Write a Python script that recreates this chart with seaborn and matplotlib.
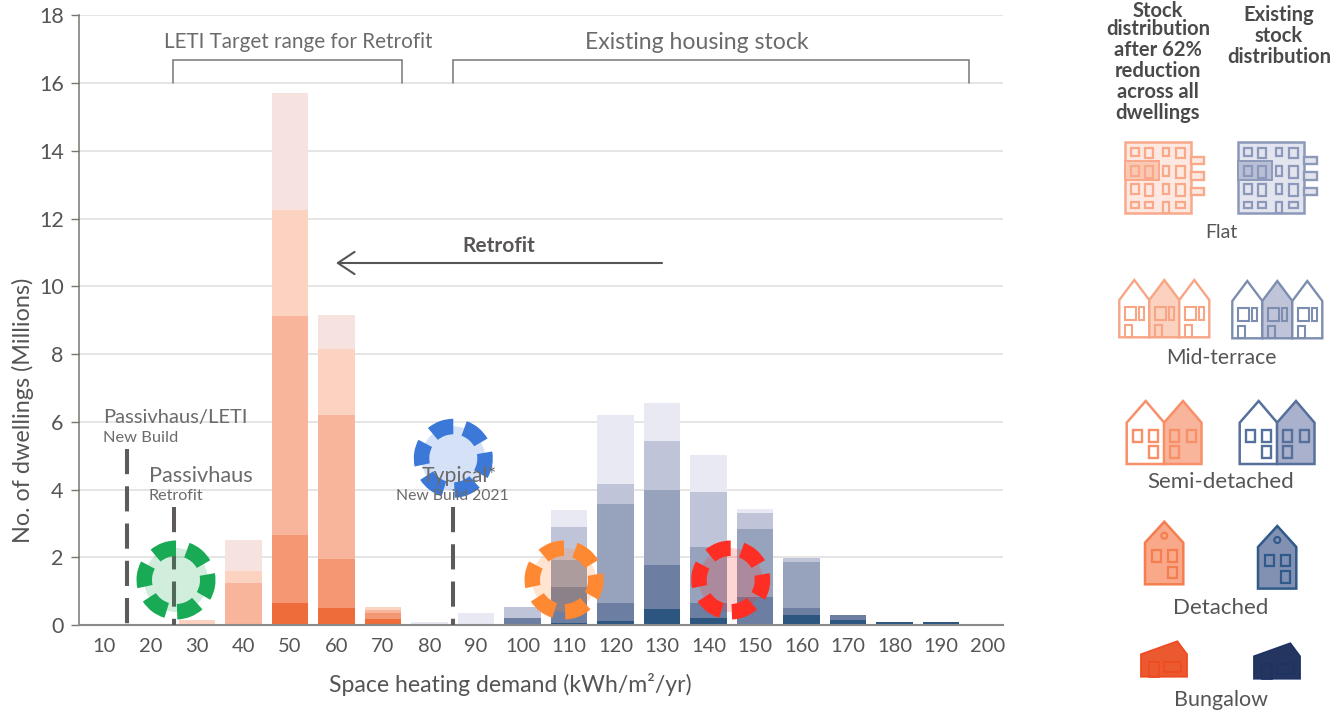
import matplotlib
matplotlib.use("Agg")
import matplotlib.pyplot as plt
import seaborn as sns
from matplotlib.patches import Circle, Polygon, Rectangle, Wedge

demand = [str(v) for v in range(10, 201, 10)]
# Stock distribution after 62% reduction (millions of dwellings)
after_bungalow = [0, 0, 0, 0, .66, .51, .18] + [0] * 13
after_detached = [0, 0, 0, 0, 2.00, 1.43, .17] + [0] * 13
after_semi = [0, 0, 0, 1.25, 6.47, 4.26, .10] + [0] * 13
after_mid = [0, 0, .15, .34, 3.12, 1.95, .08] + [0] * 13
after_flat = [0, 0, 0, .91, 3.45, 1.00, 0] + [0] * 13
# Existing stock distribution
now_bungalow = [0] * 10 + [.07, .13, .46, .22, .03, .30, .16, .09, .08, 0]
now_detached = [0] * 9 + [.22, 1.04, .53, 1.30, .44, .81, .21, .14, 0, 0, 0]
now_semi = [0] * 10 + [.81, 2.91, 2.22, 1.64, 1.99, 1.35, 0, 0, 0, 0]
now_mid = [0] * 9 + [.32, .96, .59, 1.44, 1.64, .49, .13, 0, 0, 0, 0]
now_flat = [0] * 7 + [.08, .35, 0, .51, 2.05, 1.14, 1.08, .10, 0, 0, 0, 0, 0]

after_layers = [after_bungalow, after_detached, after_semi, after_mid, after_flat]
now_layers = [now_bungalow, now_detached, now_semi, now_mid, now_flat]
after_colors = ["#EE6C3A", "#F49874", "#F8B59C", "#FCD3C1", "#F6E2DF"]
now_colors = ["#2C5580", "#6C7EA2", "#97A2BC", "#C0C4D8", "#E8E9F2"]

sns.set_theme(style="white")
plt.rcParams["font.family"] = ["Lato", "DejaVu Sans"]

W, H = 1335, 710
fig = plt.figure(figsize=(W / 100, H / 100), dpi=100)
ax = fig.add_axes([79 / W, (H - 625) / H, 924 / W, 609.7 / H])

for layers, colors in ((after_layers, after_colors), (now_layers, now_colors)):
    base = [0.0] * len(demand)
    for vals, col in zip(layers, colors):
        sns.barplot(x=demand, y=vals, bottom=base, color=col, saturation=1,
                    width=0.785, order=demand, ax=ax, errorbar=None,
                    linewidth=0, edgecolor="none")
        base = [b + v for b, v in zip(base, vals)]

ax.set_xlim(-0.5376, 19.33)
ax.set_ylim(0, 18)
ax.set_yticks(range(0, 19, 2))
ax.yaxis.grid(True, color="#DEDEDE", lw=1.1)
ax.set_axisbelow(True)
ax.tick_params(axis="y", length=6, width=1, color="#7A7570", labelsize=15.5,
               labelcolor="#555555", pad=5, left=True)
ax.tick_params(axis="x", length=0, labelsize=14.5, labelcolor="#555555", pad=9)
for s in ("top", "right"):
    ax.spines[s].set_visible(False)
ax.spines["left"].set_color("#7A7570")
ax.spines["left"].set_linewidth(1.1)
ax.spines["bottom"].set_color("#8A8A8A")
ax.spines["bottom"].set_linewidth(1.5)
ax.set_xlabel("")
ax.set_ylabel("")

# Reference lines (top-down dashes)
for xpos, top in ((0.5, 5.2), (1.5, 3.48), (7.5, 3.48)):
    ax.plot([xpos, xpos], [top, 0], color="#5F5A5A", lw=2.9,
            dashes=(6.25, 3), dash_capstyle="butt", zorder=5)

# Overlay in pixel coordinates
ov = fig.add_axes([0, 0, 1, 1], zorder=10)
ov.set_xlim(0, W)
ov.set_ylim(H, 0)
ov.axis("off")
ov.patch.set_alpha(0)

GREY = "#6B6B6B"
DARK = "#4A4A4A"


def txt(x, y, s, size, color=GREY, ha="center", **kw):
    ov.text(x, y, s, fontsize=size, color=color, ha=ha, va="center", **kw)


txt(23, 410, "No. of dwellings (Millions)", 16.8, "#555555", rotation=90)
txt(510, 684.5, "Space heating demand (kWh/m²/yr)", 16.6, "#555555")
txt(298, 42, "LETI Target range for Retrofit", 14.9)
txt(697, 42.5, "Existing housing stock", 16.6)
txt(103, 417.5, "Passivhaus/LETI", 14.5, ha="left")
txt(103, 437.5, "New Build", 11.8, ha="left")
txt(149, 476.5, "Passivhaus", 15.7, ha="left")
txt(149, 496.5, "Retrofit", 11.6, ha="left")
txt(459, 476.5, "Typical*", 15.3)
txt(452, 496.5, "New Build 2021", 11.3)
txt(499, 246.5, "Retrofit", 15, "#5A5656", fontweight="bold")

for x0, x1 in ((173, 402), (453, 969)):
    ov.plot([x0, x0, x1, x1], [83, 59.5, 59.5, 83], color="#777777", lw=1.1,
            solid_joinstyle="miter")

ov.annotate("", xy=(336, 263), xytext=(662, 263),
            arrowprops=dict(arrowstyle="->,head_length=12,head_width=8",
                            mutation_scale=1, lw=1.5, color="#555555",
                            shrinkA=0, shrinkB=0))

# Dashed-ring markers
RING_ANGLES = [110, 50, -10, -68, -127, 172]
rings = [((176, 580), "#19AA55", 0.2), ((453.3, 458.3), "#3C78D8", 0.22),
         ((564, 580), "#FF8833", 0.22), ((730.7, 580), "#FF2E24", 0.2)]
for c, col, a in rings:
    ov.add_patch(Circle(c, 32, fc=col, ec="none", alpha=a))
    for ang in RING_ANGLES:
        ov.add_patch(Wedge(c, 39.5, -(ang + 20), -(ang - 20), width=15.5,
                           fc=col, ec="none"))


def poly(pts, fc, ec, lw=1.7):
    ov.add_patch(Polygon(pts, closed=True, fc=fc, ec=ec, lw=lw, joinstyle="miter"))


def rect(x0, y0, x1, y1, fc, ec, lw=1.7):
    ov.add_patch(Rectangle((x0, y0), x1 - x0, y1 - y0, fc=fc, ec=ec, lw=lw))


def flat_icon(dx, light, hi, ec):
    rect(1124.7 + dx, 142, 1191.3 + dx, 213.3, light, ec, 1.8)
    for y0 in (156.7, 172.3, 187.7):
        rect(1191.3 + dx, y0, 1204 + dx, y0 + 7.6, light, ec)
    rect(1124.7 + dx, 160.7, 1158.7 + dx, 180.3, hi, ec, 1.4)
    cols = [(1131, 1139), (1144.5, 1152.5), (1162.5, 1168.5), (1176, 1184.5)]
    rows = [(147.5, 156), (165.5, 175.5), (183.5, 194), (201.5, 208)]
    for r, (y0, y1) in enumerate(rows):
        for c, (x0, x1) in enumerate(cols):
            if r == 3 and c == 2:
                rect(x0 + dx, y0 + .5, x1 + dx, 213.3, "none", ec, 1.6)
            else:
                tall = 3 if (c % 2 and r < 3) else 0
                rect(x0 + dx, y0, x1 + dx, y1 + tall * 0.7, "none", ec, 1.6)


def terrace_icon(dx, dy, fill, ec):
    for i, x0 in enumerate((1119.3, 1149.3, 1179.3)):
        x1 = x0 + 30
        pts = [(x0, 337.3 + dy), (x0, 300 + dy), (x0 + 15, 280 + dy),
               (x1, 300 + dy), (x1, 337.3 + dy)]
        poly([(x + dx, y) for x, y in pts], fill if i == 1 else "white", ec)
        rect(x0 + 6 + dx, 306.7 + dy, x0 + 17 + dx, 320 + dy, "none", ec, 1.5)
        rect(x0 + 20 + dx, 306.7 + dy, x0 + 25 + dx, 320 + dy, "none", ec, 1.5)
        rect(x0 + 6 + dx, 325 + dy, x0 + 13 + dx, 337.3 + dy, "none", ec, 1.5)


def semi_icon(dx, fill, ec):
    for i, x0 in enumerate((1126.7, 1164)):
        x1 = x0 + 37.5
        pts = [(x0, 464), (x0, 422.7), (x0 + 19, 401), (x1, 422.7), (x1, 464)]
        poly([(x + dx, y) for x, y in pts], fill if i else "white", ec, 1.8)
        for wx, wy in ((6, 429.5), (22.5, 429.5), ((6 if i else 22.5), 446)):
            rect(x0 + wx + dx, wy, x0 + wx + 9 + dx, wy + 12, "none", ec, 1.7)


def det_icon(dx, dy, fill, ec):
    x0, x1 = 1145 + dx, 1183.3 + dx
    poly([(x0, 584.3 + dy), (x0, 542.7 + dy), (x0 + 19.3, 521.7 + dy),
          (x1, 542.7 + dy), (x1, 584.3 + dy)], fill, ec, 1.8)
    ov.add_patch(Circle((x0 + 19.3, 535.7 + dy), 3, fc="none", ec=ec, lw=1.5))
    for wx, wy in ((7, 550.3), (23.3, 550.3), (23.3, 566.7)):
        rect(x0 + wx, wy + dy, x0 + wx + 8.7, wy + 11.5 + dy, "none", ec, 1.6)


def bung_icon(dx, dy, fill, ec):
    poly([(1141 + dx, 654.3 + dy), (1177.3 + dx, 641.3 + dy), (1187 + dx, 654.3 + dy),
          (1187 + dx, 676.7 + dy), (1141 + dx, 676.7 + dy)], fill, ec, 1.3)
    rect(1149.3 + dx, 661.7 + dy, 1159 + dx, 676.7 + dy, "none", ec, 1.2)
    rect(1164 + dx, 661.7 + dy, 1181 + dx, 671.7 + dy, "none", ec, 1.2)


flat_icon(0, "#FDE9E1", "#FAC9B4", "#F9A88A")
flat_icon(113, "#E3E5EE", "#B9BFD4", "#8C99BA")
terrace_icon(0, 0, "#FBD2BF", "#F7A585")
terrace_icon(113, 1, "#BFC4D9", "#7C8DB0")
semi_icon(0, "#F9B59B", "#F88F68")
semi_icon(113, "#A9B1CC", "#56709C")
det_icon(0, 0, "#F9A889", "#F47E4F")
det_icon(113, 4.3, "#8291B2", "#2F5A8A")
bung_icon(0, 0, "#EA5930", "#F04A20")
bung_icon(113, 2, "#243660", "#1F3363")

for y, s in zip((11, 29, 50, 71, 92, 113),
                ("Stock", "distribution", "after 62%", "reduction", "across all", "dwellings")):
    txt(1158, y, s, 14.5, DARK, fontweight="bold")
for y, s in zip((15, 36, 57), ("Existing", "stock", "distribution")):
    txt(1279, y, s, 14.5, DARK, fontweight="bold")
for y, s, size in zip((232.5, 357.5, 482.5, 607.5, 700),
                      ("Flat", "Mid-terrace", "Semi-detached", "Detached", "Bungalow"),
                      (14, 15.2, 16, 16, 15.5)):
    txt(1221, y, s, size, "#555555")

fig.savefig("out.png", dpi=100, facecolor="white")
